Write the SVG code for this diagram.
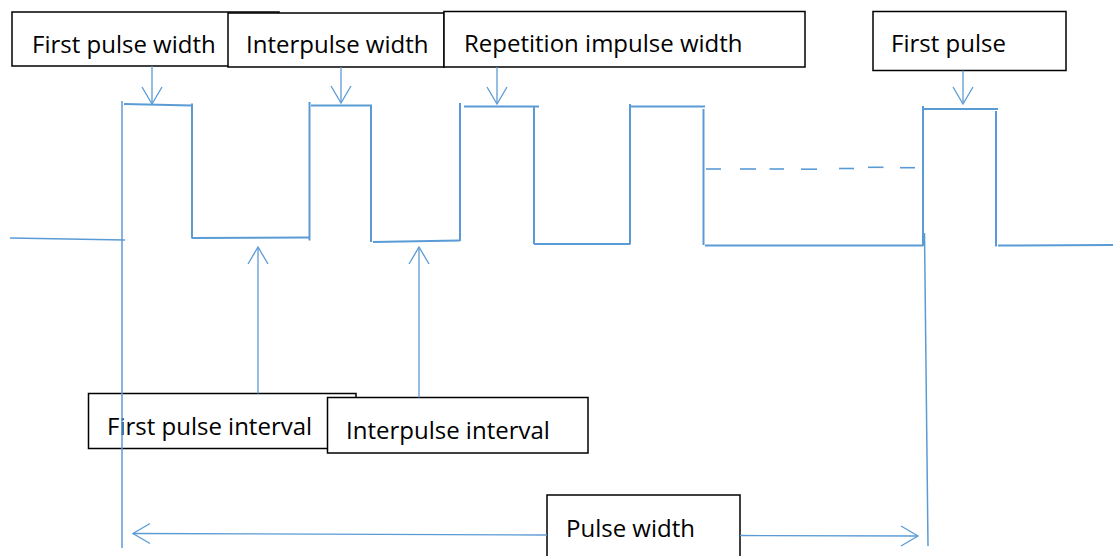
<svg xmlns="http://www.w3.org/2000/svg" width="1113" height="556" viewBox="0 0 1113 556">
  <style>
    .box { fill: #ffffff; stroke: #000000; stroke-width: 1.5; }
    .label { font-family: "Open Sans", "Liberation Sans", sans-serif; font-size: 24px; fill: #000000; }
    .wave { fill: none; stroke: #5B9BD5; stroke-width: 2; stroke-linecap: butt; }
    .mark { fill: none; stroke: #5B9BD5; stroke-width: 1.5; }
    .dash { fill: none; stroke: #5B9BD5; stroke-width: 1.6; }
    .arrow { fill: none; stroke: #5B9BD5; stroke-width: 1.3; marker-end: url(#vhead); }
  </style>
  <defs>
    <marker id="vhead" markerUnits="userSpaceOnUse" viewBox="-19 -12 21 24" refX="0" refY="0" markerWidth="21" markerHeight="24" orient="auto">
      <path d="M-17,-10 L0,0 L-17,10" fill="none" stroke="#5B9BD5" stroke-width="1.3"/>
    </marker>
  </defs>

  <!-- label boxes -->
  <g id="first-pulse-width">
    <rect class="box" x="12" y="12" width="267" height="54"/>
    <text class="label" x="32" y="52.5">First pulse width</text>
  </g>
  <g id="interpulse-width">
    <rect class="box" x="228" y="13" width="216" height="54"/>
    <text class="label" x="246" y="52.5">Interpulse width</text>
  </g>
  <g id="repetition-impulse-width">
    <rect class="box" x="444" y="11.5" width="361" height="55.5"/>
    <text class="label" x="464" y="51.5">Repetition impulse width</text>
  </g>
  <g id="first-pulse">
    <rect class="box" x="873" y="11.5" width="193" height="59"/>
    <text class="label" x="891" y="51.5">First pulse</text>
  </g>
  <g id="first-pulse-interval">
    <rect class="box" x="88.5" y="393.5" width="267.5" height="55"/>
    <text class="label" x="107" y="435">First pulse interval</text>
  </g>
  <g id="interpulse-interval">
    <rect class="box" x="327.5" y="397.5" width="260.5" height="55.5"/>
    <text class="label" x="346" y="438.5">Interpulse interval</text>
  </g>
  <g id="pulse-width">
    <rect class="box" x="547" y="495" width="193" height="70"/>
    <text class="label" x="566" y="537">Pulse width</text>
  </g>

  <!-- pulse train -->
  <g id="waveform">
    <line class="mark" x1="10" y1="238" x2="125" y2="240"/>
    <line class="wave" x1="124" y1="104" x2="192" y2="105.5"/>
    <line class="wave" x1="192" y1="103.5" x2="192" y2="238.5"/>
    <line class="wave" x1="192" y1="238" x2="310" y2="237.5"/>
    <line class="wave" x1="309.5" y1="240.5" x2="309.5" y2="102"/>
    <line class="wave" x1="311" y1="105.5" x2="372" y2="105.5"/>
    <line class="wave" x1="371" y1="105" x2="371" y2="242"/>
    <line class="wave" x1="373" y1="242" x2="460" y2="240.5"/>
    <line class="wave" x1="460" y1="241" x2="460" y2="103"/>
    <line class="wave" x1="464" y1="106.5" x2="539" y2="106.5"/>
    <line class="wave" x1="534" y1="107" x2="534" y2="244"/>
    <line class="wave" x1="534" y1="244" x2="630.5" y2="244"/>
    <line class="wave" x1="630" y1="244" x2="630" y2="104"/>
    <line class="wave" x1="630" y1="106.5" x2="705" y2="106.5"/>
    <line class="wave" x1="703.5" y1="109" x2="703.5" y2="245"/>
    <line class="wave" x1="705" y1="245.5" x2="923" y2="245.5"/>
    <line class="wave" x1="923" y1="246" x2="923" y2="106"/>
    <line class="wave" x1="923" y1="109" x2="998" y2="109"/>
    <line class="wave" x1="996" y1="111" x2="996" y2="246.5"/>
    <line class="wave" x1="998" y1="245.5" x2="1113" y2="245"/>
    <!-- continuation dashes -->
    <line class="dash" x1="706" y1="169" x2="721" y2="169"/>
    <line class="dash" x1="740" y1="169" x2="756" y2="169"/>
    <line class="dash" x1="769.5" y1="169" x2="784" y2="169"/>
    <line class="dash" x1="801" y1="169.2" x2="817" y2="169.2"/>
    <line class="dash" x1="839" y1="168.5" x2="854" y2="168.5"/>
    <line class="dash" x1="868" y1="167.3" x2="883.5" y2="167.3"/>
    <line class="dash" x1="900" y1="167.7" x2="915" y2="167.7"/>
    <!-- period boundaries -->
    <line class="mark" x1="122" y1="101" x2="122" y2="548"/>
    <line class="mark" x1="924.5" y1="233" x2="928" y2="546"/>
  </g>

  <!-- connectors -->
  <g id="connectors">
    <line class="arrow" x1="152" y1="66" x2="152" y2="104"/>
    <line class="arrow" x1="341" y1="67" x2="341" y2="103"/>
    <line class="arrow" x1="497" y1="67" x2="497" y2="104"/>
    <line class="arrow" x1="963" y1="70.5" x2="963" y2="104"/>
    <line class="arrow" x1="258" y1="393.5" x2="258" y2="247"/>
    <line class="arrow" x1="419" y1="397.5" x2="419" y2="247"/>
    <line class="arrow" x1="547" y1="535" x2="133" y2="533.5"/>
    <line class="arrow" x1="740" y1="535.5" x2="918" y2="536"/>
  </g>
</svg>
